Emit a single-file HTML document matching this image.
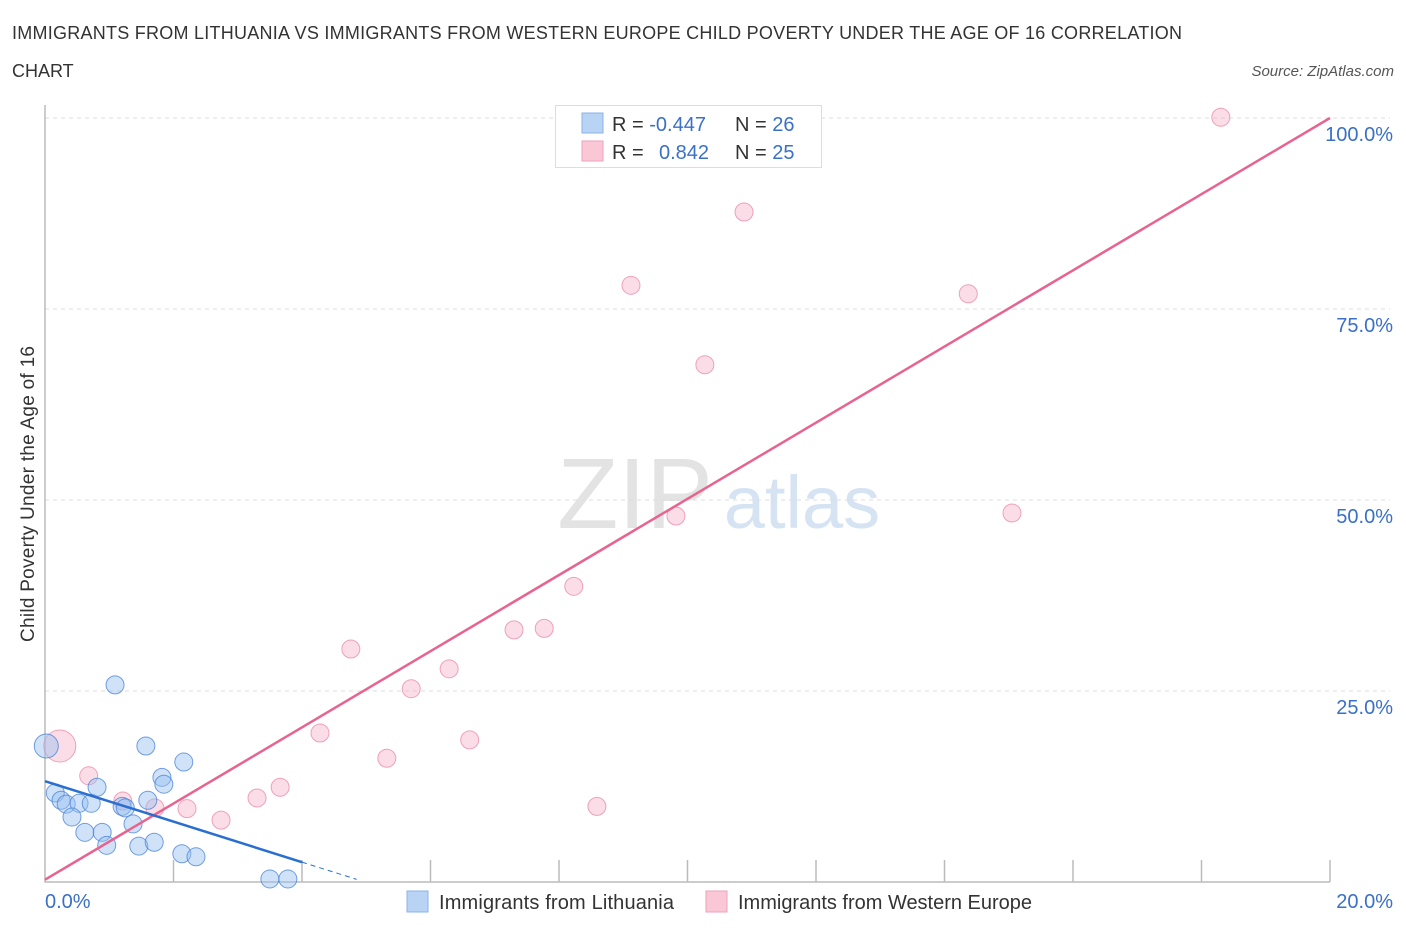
<!DOCTYPE html>
<html><head><meta charset="utf-8"><style>
body{margin:0;background:#fff;font-family:"Liberation Sans",sans-serif;}
svg text{font-family:"Liberation Sans",sans-serif;}
</style></head><body>
<svg id="chart" width="1406" height="930" xmlns="http://www.w3.org/2000/svg">
<text x="12" y="39" font-size="18" fill="#333" textLength="1170">IMMIGRANTS FROM LITHUANIA VS IMMIGRANTS FROM WESTERN EUROPE CHILD POVERTY UNDER THE AGE OF 16 CORRELATION</text>
<text x="12" y="77" font-size="18" fill="#333">CHART</text>
<text x="1394" y="76" font-size="15" fill="#555" font-style="italic" text-anchor="end">Source: ZipAtlas.com</text>
<text x="34" y="494" font-size="19" fill="#333" text-anchor="middle" textLength="296" transform="rotate(-90 34 494)">Child Poverty Under the Age of 16</text>
<g>
<text x="635" y="528" font-size="100" fill="#e3e3e3" font-family="Liberation Serif" text-anchor="middle">ZIP</text>
<text x="802" y="528" font-size="74" fill="#d5e3f3" text-anchor="middle">atlas</text>
</g>
<g id="grid"></g><g id="axes"></g><g id="marks"></g>
<g>
<rect x="555.5" y="105.5" width="266" height="62" fill="#fff" stroke="#ddd"/>
<rect x="582" y="113" width="21" height="20" fill="#b9d3f5" stroke="#8ab3e8"/>
<rect x="582" y="141" width="21" height="20" fill="#f9c7d6" stroke="#eea3ba"/>
<text x="612" y="131" font-size="20" fill="#333">R = <tspan fill="#3a70c8">-0.447</tspan></text>
<text x="735" y="131" font-size="20" fill="#333">N = <tspan fill="#3a70c8">26</tspan></text>
<text x="612" y="159" font-size="20" fill="#333">R = <tspan fill="#3a70c8" x="659">0.842</tspan></text>
<text x="735" y="159" font-size="20" fill="#333">N = <tspan fill="#3a70c8">25</tspan></text>
</g>
<g>
<rect x="407" y="891" width="21" height="21" fill="#b9d3f5" stroke="#8ab3e8"/>
<text x="439" y="909" font-size="20" fill="#333" textLength="235">Immigrants from Lithuania</text>
<rect x="706" y="891" width="21" height="21" fill="#f9c7d6" stroke="#eea3ba"/>
<text x="738" y="909" font-size="20" fill="#333" textLength="294">Immigrants from Western Europe</text>
</g>
</svg>
<script>
const blueX=[0.02,0.16,0.25,0.33,0.53,0.72,0.42,0.62,0.81,0.89,0.96,1.09,1.20,1.25,1.37,1.46,1.57,1.60,1.70,1.82,1.85,2.16,2.13,2.35,3.50,3.78];
const blueY=[17.8,11.65,10.7,10.2,10.3,10.3,8.5,6.5,12.4,6.5,4.8,25.8,9.9,9.7,7.6,4.7,17.8,10.7,5.2,13.7,12.8,15.7,3.7,3.3,0.4,0.4];
const pinkX=[0.23,0.68,1.21,1.71,2.21,2.74,3.30,3.66,4.28,4.76,5.32,5.70,6.29,6.61,7.30,7.77,8.23,8.59,9.12,9.82,10.27,10.88,14.37,15.05,18.30];
const pinkY=[17.8,13.9,10.6,9.7,9.6,8.1,11.0,12.4,19.5,30.5,16.2,25.3,27.9,18.6,33.0,33.2,38.7,9.9,78.1,47.9,67.7,87.7,77.0,48.3,100.1];
const yTicks=[25,50,75,100];
const yTickLabels=["25.0%","50.0%","75.0%","100.0%"];
const xTicks=[0,2,4,6,8,10,12,14,16,18,20];
const blueTrend=[13.2,-2.65];
const pinkTrend=[0.3,4.985];
const X=v=>45+v*64.25, Y=v=>882-v*7.64;
const NS="http://www.w3.org/2000/svg";
function mk(p,t,a){const e=document.createElementNS(NS,t);for(const k in a)e.setAttribute(k,a[k]);p.appendChild(e);return e;}
const grid=document.getElementById('grid'),axes=document.getElementById('axes'),marks=document.getElementById('marks');
yTicks.forEach((t,i)=>{
 const l=mk(grid,'line',{x1:45,x2:1390,y1:Y(t),y2:Y(t),stroke:'#ddd','stroke-dasharray':'4 4'});
 
 
 const tx=mk(grid,'text',{x:1393,y:Y(t)+23,'font-size':20,fill:'#3a70c8','text-anchor':'end'});
 tx.textContent=yTickLabels[i];
 
 
});
const ax=mk(axes,'path',{d:`M45 105 V882 H1330`,stroke:'#bbb',fill:'none','stroke-width':1.5});


xTicks.forEach(t=>{
 const l=mk(axes,'line',{x1:X(t),x2:X(t),y1:882,y2:t==0?882:860,stroke:'#bbb','stroke-width':1.5});
 
 
});
const xl0=mk(axes,'text',{x:45,y:908,'font-size':20,fill:'#3a70c8'});xl0.textContent='0.0%';


const xl1=mk(axes,'text',{x:1393,y:908,'font-size':20,fill:'#3a70c8','text-anchor':'end'});xl1.textContent='20.0%';


pinkX.forEach((x,i)=>{
 const c=mk(marks,'circle',{cx:X(x),cy:Y(pinkY[i]),r:i==0?16:9,fill:'rgba(246,170,195,0.4)',stroke:'rgba(232,130,160,0.7)','stroke-width':1});
 
 
});
blueX.forEach((x,i)=>{
 const c=mk(marks,'circle',{cx:X(x),cy:Y(blueY[i]),r:i==0?12:9,fill:'rgba(150,190,240,0.45)',stroke:'rgba(70,130,215,0.75)','stroke-width':1});
 
 
});
const pl=mk(marks,'line',{x1:X(0),y1:Y(pinkTrend[0]),x2:X(20),y2:Y(pinkTrend[0]+pinkTrend[1]*20),stroke:'#e8638f','stroke-width':2.5});


const bl=mk(marks,'line',{x1:X(0),y1:Y(blueTrend[0]),x2:X(4),y2:Y(blueTrend[0]+blueTrend[1]*4),stroke:'#2a6fd0','stroke-width':2.5});


const bd=mk(marks,'line',{x1:X(4),y1:Y(blueTrend[0]+blueTrend[1]*4),x2:X(4.85),y2:Y(Math.max(0,blueTrend[0]+blueTrend[1]*4.85)),stroke:'#2a6fd0','stroke-width':1,'stroke-dasharray':'5 4'});


</script>
</body></html>
